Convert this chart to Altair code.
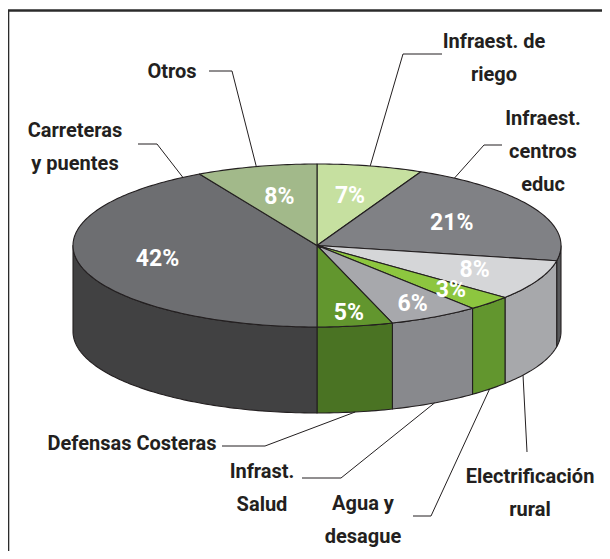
import math
import numpy as np
import pandas as pd
import altair as alt

# ---------------- data ----------------
categories = ["Infraest. de riego", "Infraest. centros educ", "Electrificación rural",
              "Agua y desague", "Infrast. Salud", "Defensas Costeras",
              "Carreteras y puentes", "Otros"]
shares = [7, 21, 8, 3, 6, 5, 42, 8]
top_colors = ["#c6e0a0", "#808185", "#d5d6d8", "#8dc63f", "#a7a8ac", "#62962e", "#6d6e71", "#a2b98a"]
side_colors = ["#9fb880", "#58595b", "#a7a8ab", "#62962e", "#88898d", "#4a7323", "#414142", "#7f956a"]
label_lines = [["Infraest. de", "riego"], ["Infraest.", "centros", "educ"],
               ["Electrificación", "rural"], ["Agua y", "desague"], ["Infrast.", "Salud"],
               ["Defensas Costeras"], ["Carreteras", "y puentes"], ["Otros"]]

# ---------------- layout (page pixel units) ----------------
PAD_L, PAD_T = 4, 4
W, H = 594 - PAD_L, 543 - PAD_T
X0, Y0 = 8 + PAD_L, 8 + PAD_T
CX, CY, RX, RY, DEPTH = 317, 245.5, 244, 81.5, 86
LINE_H = 33
label_x = [494, 543, 530, 363, 262, 132, 75, 172]
label_base = [48, 125, 483, 510, 478, 450, 137, 78]
leader_pts = [[(442, 54), (403, 54)], [(502, 145), (484, 145)], [(527, 452)],
              [(413, 516), (431, 516)], [(302, 478), (341, 478)],
              [(222, 446), (265, 446)], [(138, 144), (157, 144)], [(209, 71), (232, 71)]]
anchor_frac = [0.5, 0.12, 0.75, 0.5, 0.5, 0.5, 0.97, 0.5]
anchor_rim = ["top", "top", "bottom", "bottom", "bottom", "bottom", "top", "top"]

INK = "#231f20"
FONT = "Roboto, Lato, sans-serif"


def ex(t):
    return CX + RX * math.sin(t)


def ey(t):
    return CY - RY * math.cos(t)


def arc(t0, t1):
    n = max(2, int(math.ceil(abs(t1 - t0) / math.radians(1))) + 1)
    return np.linspace(t0, t1, n)


total = float(sum(shares))
bounds = np.concatenate([[0], np.cumsum(shares)]) / total * 2 * math.pi

top_rows, side_rows, lead_rows, name_rows, pct_rows = [], [], [], [], []
for i, cat in enumerate(categories):
    t0, t1 = bounds[i], bounds[i + 1]
    # top face
    pts = [(CX, CY)] + [(ex(t), ey(t)) for t in arc(t0, t1)] + [(CX, CY)]
    for k, (x, y) in enumerate(pts):
        top_rows.append(dict(pid=f"t{i}", ord=k, x=x, y=y, fill=top_colors[i]))
    # visible side face
    lo, hi = max(t0, math.pi / 2), min(t1, 3 * math.pi / 2)
    if hi > lo:
        ts = arc(lo, hi)
        pts = [(ex(t), ey(t)) for t in ts] + [(ex(t), ey(t) + DEPTH) for t in ts[::-1]]
        pts.append(pts[0])
        for k, (x, y) in enumerate(pts):
            side_rows.append(dict(pid=f"s{i}", ord=k, x=x, y=y, fill=side_colors[i]))
    # leader line
    ta = t0 + anchor_frac[i] * (t1 - t0)
    ax, ay = ex(ta), ey(ta) + (DEPTH if anchor_rim[i] == "bottom" else 0)
    for k, (x, y) in enumerate(leader_pts[i] + [(ax, ay)]):
        lead_rows.append(dict(pid=f"l{i}", ord=k, x=x, y=y))
    # name labels
    for j, line in enumerate(label_lines[i]):
        name_rows.append(dict(x=label_x[i], y=label_base[i] + j * LINE_H, text=line))
    # percentage labels
    tm = (t0 + t1) / 2
    f = 0.62 + 0.22 * max(0.0, -math.cos(tm))
    pct_rows.append(dict(x=CX + f * RX * math.sin(tm), y=CY - f * RY * math.cos(tm),
                         text=f"{shares[i]}%"))

top_df = pd.DataFrame(top_rows)
side_df = pd.DataFrame(side_rows)
lead_df = pd.DataFrame(lead_rows)
name_df = pd.DataFrame(name_rows)
pct_df = pd.DataFrame(pct_rows)
frame_df = pd.DataFrame([dict(x=8, y=10.5, x2=612, y2=10.5), dict(x=8, y=10.5, x2=8, y2=560)])

xs = alt.Scale(domain=[X0, X0 + W], nice=False, zero=False)
ys = alt.Scale(domain=[Y0 + H, Y0], nice=False, zero=False)
X = lambda f="x": alt.X(f"{f}:Q", scale=xs, axis=None)
Y = lambda f="y": alt.Y(f"{f}:Q", scale=ys, axis=None)

frame = alt.Chart(frame_df).mark_rule(color="#2b2b2b", strokeWidth=2.6).encode(
    x=X(), y=Y(), x2="x2:Q", y2="y2:Q")

sides = alt.Chart(side_df).mark_line(stroke=INK, strokeWidth=1.1, strokeJoin="round").encode(
    x=X(), y=Y(), detail="pid:N", order="ord:Q", fill=alt.Fill("fill:N", scale=None))

tops = alt.Chart(top_df).mark_line(stroke=INK, strokeWidth=1.1, strokeJoin="round").encode(
    x=X(), y=Y(), detail="pid:N", order="ord:Q", fill=alt.Fill("fill:N", scale=None))

leaders = alt.Chart(lead_df).mark_line(color=INK, strokeWidth=1).encode(
    x=X(), y=Y(), detail="pid:N", order="ord:Q")

names = alt.Chart(name_df).mark_text(font=FONT, fontSize=20, fontWeight="bold", color=INK,
                                     align="center", baseline="alphabetic").encode(
    x=X(), y=Y(), text="text:N")

pcts = alt.Chart(pct_df).mark_text(font=FONT, fontSize=23, fontWeight="bold", color="white",
                                   align="center", baseline="middle").encode(
    x=X(), y=Y(), text="text:N")

chart = alt.layer(frame, sides, tops, leaders, names, pcts).properties(
    width=W, height=H,
    padding={"left": PAD_L, "top": PAD_T, "right": 0, "bottom": 0},
    autosize=alt.AutoSizeParams(type="none"),
    background="white",
).configure_view(stroke=None)

chart.save("out.html", embed_options={"renderer": "svg", "actions": False})
